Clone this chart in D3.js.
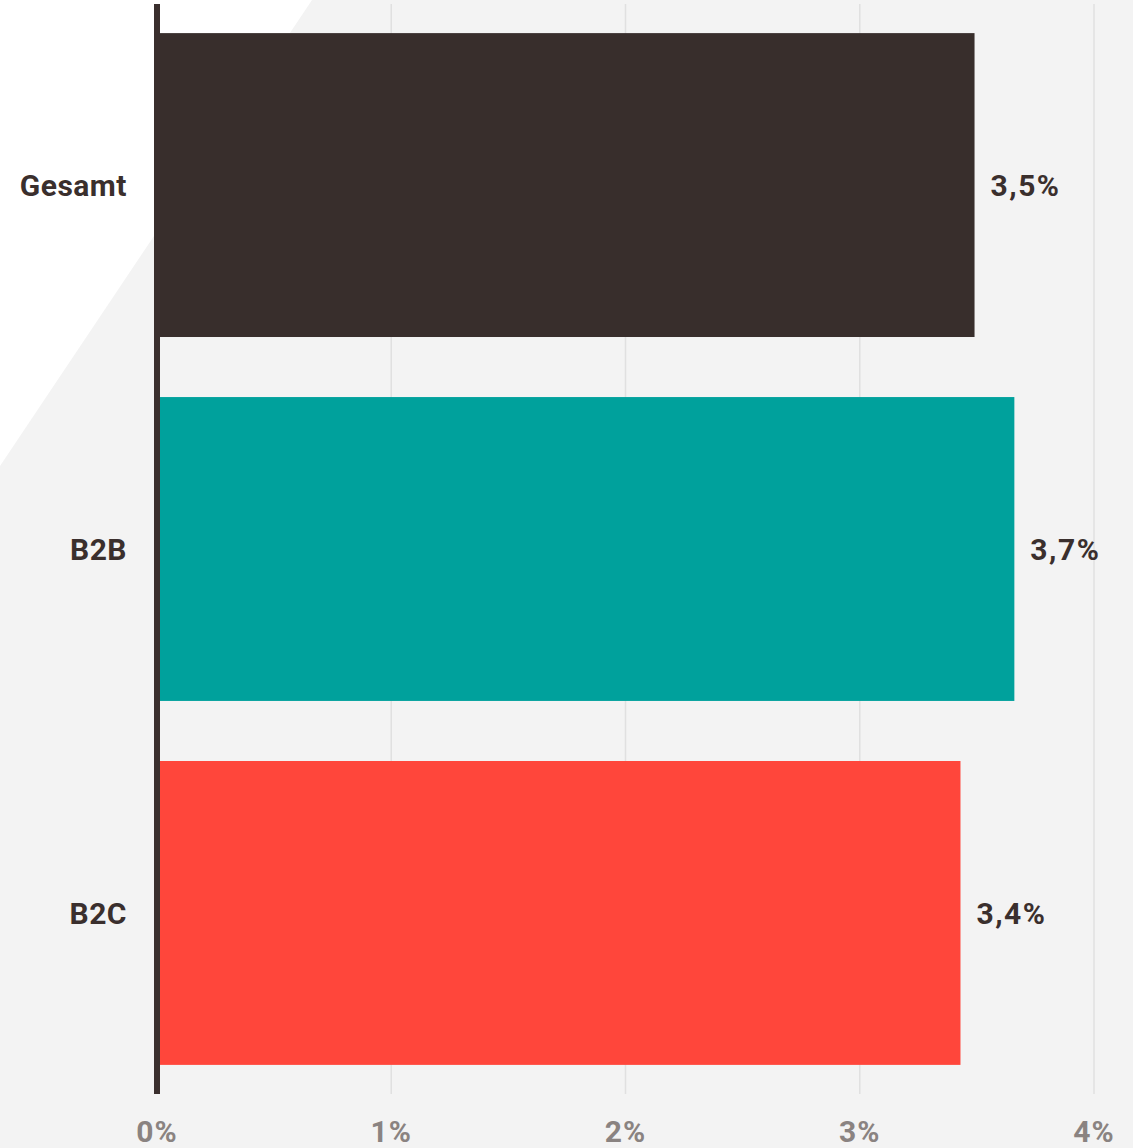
<!DOCTYPE html>
<html><head><meta charset="utf-8">
<script src="https://cdn.jsdelivr.net/npm/d3@7"></script>
<style>
html,body{margin:0;padding:0;background:#f3f3f3;}
text{font-family:Roboto,"DejaVu Sans",sans-serif;font-weight:700;}
</style></head>
<body>
<svg id="chart" width="1133" height="1148"></svg>
<script>
const categories = ["Gesamt", "B2B", "B2C"];
const values = [3.49, 3.66, 3.43];
const valueLabels = ["3,5%", "3,7%", "3,4%"];
const colors = ["#382e2c", "#00a19c", "#ff463b"];
const ticks = [0, 1, 2, 3, 4];
const tickLabels = ["0%", "1%", "2%", "3%", "4%"];

const svg = d3.select("#chart");
const W = 1133, H = 1148;

svg.append("rect").attr("width", W).attr("height", H).attr("fill", "#f3f3f3");
svg.append("path").attr("d", "M0,0 L312,0 L0,466 Z").attr("fill", "#ffffff");

const x = d3.scaleLinear().domain([0, 4]).range([157, 1094]);
const y = d3.scaleBand().domain(categories).range([4, 1094]).paddingInner(0.165).paddingOuter(0.08);

// gridlines
svg.append("g").selectAll("line").data(ticks.slice(1)).join("line")
  .attr("x1", d => x(d)).attr("x2", d => x(d))
  .attr("y1", 4).attr("y2", 1094)
  .attr("stroke", "#e0e0e0").attr("stroke-width", 1.5);

// bars
svg.append("g").selectAll("rect").data(categories).join("rect")
  .attr("x", x(0))
  .attr("y", d => y(d))
  .attr("height", y.bandwidth())
  .attr("width", (d, i) => x(values[i]) - x(0))
  .attr("fill", (d, i) => colors[i]);

// axis line
svg.append("rect").attr("x", 154).attr("y", 4).attr("width", 6).attr("height", 1090).attr("fill", "#3a2f2d");

// category labels
svg.append("g").selectAll("text").data(categories).join("text")
  .attr("x", 127)
  .attr("y", d => y(d) + y.bandwidth() / 2)
  .attr("dy", "0.36em")
  .attr("text-anchor", "end")
  .attr("font-size", 30)
  .attr("letter-spacing", 0.5)
  .attr("fill", "#3a2f2d")
  .text(d => d);

// value labels
svg.append("g").selectAll("text").data(categories).join("text")
  .attr("x", (d, i) => x(values[i]) + 16)
  .attr("y", d => y(d) + y.bandwidth() / 2)
  .attr("dy", "0.36em")
  .attr("font-size", 30)
  .attr("letter-spacing", 1.5)
  .attr("fill", "#3a2f2d")
  .text((d, i) => valueLabels[i]);

// tick labels
svg.append("g").selectAll("text").data(ticks).join("text")
  .attr("x", d => x(d))
  .attr("y", 1142)
  .attr("text-anchor", "middle")
  .attr("font-size", 30)
  .attr("letter-spacing", 1)
  .attr("fill", "#8a8381")
  .text((d, i) => tickLabels[i]);
</script>
</body></html>
